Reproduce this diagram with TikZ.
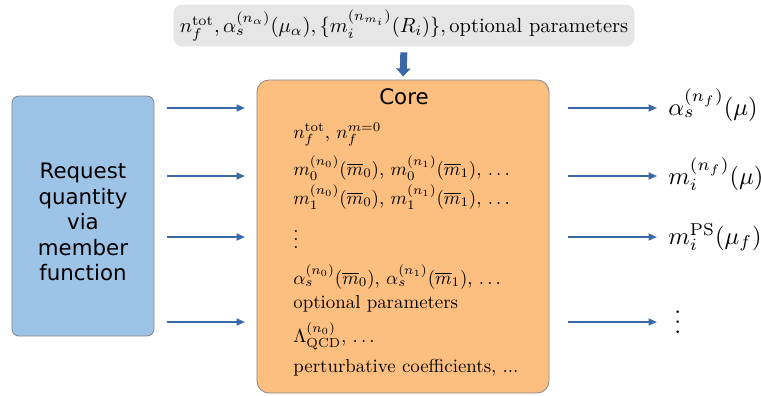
\RequirePackage{fix-cm}
\documentclass[tikz,border=0pt]{standalone}
\usepackage{fontspec}
\usepackage{graphicx}
\newfontfamily\dvs{DejaVu Sans}
\usetikzlibrary{arrows.meta}
\definecolor{arrblue}{HTML}{3B69A8}
\definecolor{corefill}{HTML}{FDBF80}
\definecolor{reqfill}{HTML}{9DC3E6}
\definecolor{topfill}{HTML}{E6E6E6}
\definecolor{edgegray}{HTML}{8A8A8A}
\tikzset{
  arr/.style={draw=arrblue, line width=0.95pt, -{Triangle[length=4.5pt,width=3.7pt]}},
  bigarr/.style={draw=arrblue, line width=3.7pt, -{Triangle[length=4.3pt,width=7.4pt]}},
  coretext/.style={anchor=base west, inner sep=0pt, font=\fontsize{10}{12}\selectfont},
  outtext/.style={anchor=base west, inner sep=0pt, font=\fontsize{10}{12}\selectfont},
  sanstext/.style={font=\dvs\fontsize{11.3}{13.5}\selectfont},
  edge box/.style={draw=edgegray, line width=0.45pt, inner sep=0pt},
}
\begin{document}
\begin{tikzpicture}[x=0.53pt,y=-0.53pt]
\useasboundingbox (0,0) rectangle (761,395);
% top input box
\node[draw=topfill, fill=topfill, rounded corners=4.2pt, minimum width=243.8pt, minimum height=21.7pt, inner sep=0pt,
      font=\fontsize{10}{12}\selectfont] (top) at (404,25.5)
  {\scalebox{1.085}{$n_f^{\mathrm{tot}}, \alpha_s^{(n_\alpha)}(\mu_\alpha), \{m_i^{(n_{m_i})}(R_i)\}, \mbox{optional parameters}$}};
% core box
\node[edge box, fill=corefill, rounded corners=6.4pt, minimum width=154.8pt, minimum height=165.9pt] (core) at (403,236.5) {};
\node[sanstext, inner sep=0pt] (coretitle) at (404,97) {Core};
% request box
\node[edge box, fill=reqfill, rounded corners=3.7pt, minimum width=75.3pt, minimum height=127.2pt] (req) at (83,216) {};
\node[sanstext, align=center, inner sep=0pt] (reqtext) at (83,222) {Request\\quantity\\via\\member\\function};
% down arrow
\draw[bigarr, shorten <=3.2pt, shorten >=1.6pt] (top.south) -- (core.north);
% core contents
\node[coretext] (c1) at (293,138) {$n_f^{\mathrm{tot}}$, $n_f^{m=0}$};
\node[coretext] (c2) at (293,175) {$m_0^{(n_0)}(\overline{m}_0)$, $m_0^{(n_1)}(\overline{m}_1)$, $\ldots$};
\node[coretext] (c3) at (293,204) {$m_1^{(n_0)}(\overline{m}_0)$, $m_1^{(n_1)}(\overline{m}_1)$, $\ldots$};
\node[coretext] (c4) at (293,248) {$\vdots$};
\node[coretext] (c5) at (293,284) {$\alpha_s^{(n_0)}(\overline{m}_0)$, $\alpha_s^{(n_1)}(\overline{m}_1)$, $\ldots$};
\node[coretext] (c6) at (293,308) {optional parameters};
\node[coretext] (c7) at (293,342) {$\Lambda_{\mathrm{QCD}}^{(n_0)}$, $\ldots$};
\node[coretext] (c8) at (293,372) {perturbative coefficients, ...};
% input and output arrows
\foreach \i/\y in {1/108,2/176,3/237,4/322}{
  \coordinate (ls\i) at (167,\y);
  \coordinate (le\i) at (245,\y);
  \coordinate (rs\i) at (568,\y);
  \coordinate (re\i) at (657,\y);
  \draw[arr] (ls\i) -- (le\i);
  \draw[arr] (rs\i) -- (re\i);
}
% outputs
\node[outtext] (o1) at (668,115) {\scalebox{1.3}{$\alpha_s^{(n_f)}(\mu)$}};
\node[outtext] (o2) at (668,184) {\scalebox{1.3}{$m_i^{(n_f)}(\mu)$}};
\node[outtext] (o3) at (668,244) {\scalebox{1.3}{$m_i^{\mathrm{PS}}(\mu_f)$}};
\node[outtext] (o4) at (674,333) {\scalebox{1.3}{$\vdots$}};
\end{tikzpicture}
\end{document}
